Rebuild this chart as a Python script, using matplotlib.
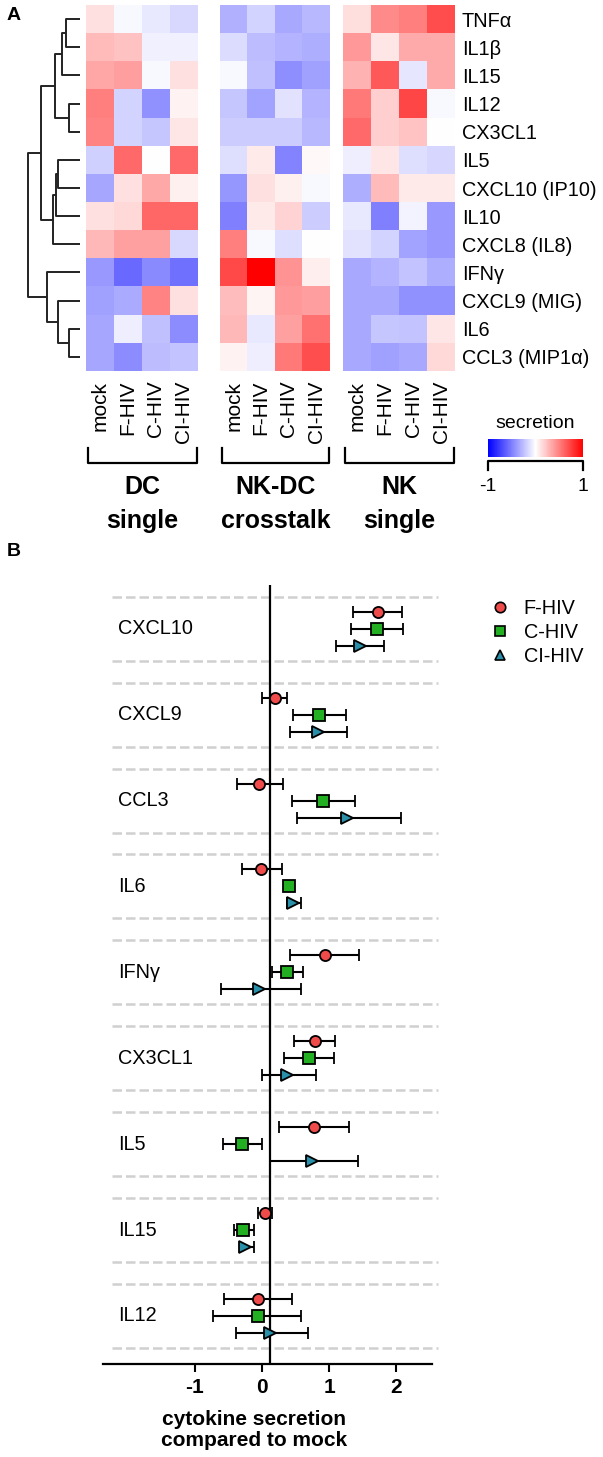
import numpy as np
import matplotlib
matplotlib.use("Agg")
import matplotlib.pyplot as plt
from matplotlib.lines import Line2D

plt.rcParams['font.family'] = ['Liberation Sans', 'DejaVu Sans']

W, H = 603, 1457

# ---------------- data: panel A ----------------
cytokines = ["TNFα", "IL1β", "IL15", "IL12", "CX3CL1", "IL5", "CXCL10 (IP10)",
             "IL10", "CXCL8 (IL8)", "IFNγ", "CXCL9 (MIG)", "IL6", "CCL3 (MIP1α)"]
conditions = ["mock", "F-HIV", "C-HIV", "CI-HIV"]
groups = [("DC", "single"), ("NK-DC", "crosstalk"), ("NK", "single")]

dc_single = [
    [0.12, -0.03, -0.09, -0.15],
    [0.27, 0.24, -0.06, -0.06],
    [0.35, 0.38, -0.03, 0.12],
    [0.50, -0.17, -0.43, 0.05],
    [0.48, -0.17, -0.22, 0.10],
    [-0.18, 0.58, 0.00, 0.58],
    [-0.35, 0.12, 0.34, 0.06],
    [0.12, 0.15, 0.60, 0.60],
    [0.28, 0.37, 0.37, -0.15],
    [-0.40, -0.58, -0.46, -0.56],
    [-0.37, -0.33, 0.48, 0.12],
    [-0.35, -0.07, -0.25, -0.45],
    [-0.35, -0.45, -0.26, -0.23],
]
nkdc_crosstalk = [
    [-0.31, -0.17, -0.34, -0.28],
    [-0.14, -0.26, -0.29, -0.32],
    [-0.03, -0.25, -0.44, -0.37],
    [-0.22, -0.36, -0.11, -0.29],
    [-0.20, -0.20, -0.20, -0.28],
    [-0.13, 0.08, -0.48, 0.03],
    [-0.41, 0.12, 0.06, -0.03],
    [-0.50, 0.08, 0.17, -0.20],
    [0.50, -0.03, -0.13, 0.00],
    [0.71, 1.00, 0.42, 0.07],
    [0.26, 0.04, 0.40, 0.38],
    [0.28, -0.09, 0.37, 0.56],
    [0.05, -0.07, 0.52, 0.69],
]
nk_single = [
    [0.13, 0.46, 0.50, 0.70],
    [0.40, 0.10, 0.33, 0.33],
    [0.30, 0.65, -0.10, 0.33],
    [0.52, 0.19, 0.72, -0.03],
    [0.58, 0.19, 0.23, 0.00],
    [-0.07, 0.10, -0.13, -0.16],
    [-0.32, 0.27, 0.08, 0.08],
    [-0.09, -0.50, -0.04, -0.40],
    [-0.11, -0.17, -0.36, -0.40],
    [-0.34, -0.29, -0.23, -0.32],
    [-0.34, -0.34, -0.43, -0.43],
    [-0.34, -0.22, -0.23, 0.10],
    [-0.34, -0.37, -0.34, 0.15],
]

# dendrogram merges (child a, child b, height); new cluster ids start at 13
linkage = [
    (0, 1, 14.3),     # 13
    (3, 4, 10.7),     # 14
    (13, 2, 18.3),    # 15
    (15, 14, 25.0),   # 16
    (5, 6, 21.7),     # 17
    (17, 7, 24.5),    # 18
    (18, 8, 27.3),    # 19
    (16, 19, 39.3),   # 20
    (11, 12, 10.7),   # 21
    (10, 21, 21.7),   # 22
    (9, 22, 33.3),    # 23
    (20, 23, 52.0),   # 24
]

# ---------------- data: panel B ----------------
b_cytokines = ["CXCL10", "CXCL9", "CCL3", "IL6", "IFNγ", "CX3CL1", "IL5", "IL15", "IL12"]
series = ["F-HIV", "C-HIV", "CI-HIV"]
f_mean = [1.72, 0.20, -0.04, -0.01, 0.94, 0.79, 0.78, 0.05, -0.05]
f_lo = [1.36, 0.01, -0.37, -0.29, 0.42, 0.48, 0.26, -0.05, -0.56]
f_hi = [2.09, 0.38, 0.31, 0.30, 1.45, 1.09, 1.30, 0.15, 0.45]
c_mean = [1.71, 0.85, 0.91, 0.41, 0.37, 0.70, -0.29, -0.28, -0.06]
c_lo = [1.33, 0.46, 0.45, 0.37, 0.15, 0.33, -0.58, -0.42, -0.72]
c_hi = [2.10, 1.25, 1.38, 0.45, 0.62, 1.07, 0.00, -0.12, 0.58]
ci_mean = [1.46, 0.83, 1.26, 0.46, -0.04, 0.38, 0.75, -0.25, 0.12]
ci_lo = [1.11, 0.42, 0.52, 0.38, -0.61, 0.01, 0.12, -0.33, -0.38]
ci_hi = [1.82, 1.26, 2.07, 0.58, 0.58, 0.81, 1.43, -0.11, 0.68]


def px_axes(x0, y0, x1, y1):
    return fig.add_axes([x0 / W, 1 - y1 / H, (x1 - x0) / W, (y1 - y0) / H])


def fx(x):
    return x / W


def fy(y):
    return 1 - y / H


fig = plt.figure(figsize=(W / 100, H / 100), dpi=100)

# ---------------- panel A heatmaps ----------------
panel_x = [(86, 198), (220, 330), (343, 455)]
top, bottom = 5, 371
im = None
for k, (mat, (x0, x1)) in enumerate(zip([dc_single, nkdc_crosstalk, nk_single], panel_x)):
    ax = px_axes(x0, top, x1, bottom)
    im = ax.imshow(np.array(mat), cmap="bwr", vmin=-1, vmax=1, aspect="auto",
                   interpolation="nearest")
    for s in ax.spines.values():
        s.set_visible(False)
    ax.set_xticks(range(len(conditions)))
    ax.set_xticklabels(conditions, rotation=90, fontsize=15)
    ax.tick_params(axis="x", length=0, pad=7)
    if k == 2:
        ax.yaxis.tick_right()
        ax.set_yticks(range(len(cytokines)))
        ax.set_yticklabels(cytokines, fontsize=14.3)
        ax.tick_params(axis="y", length=0, pad=5)
    else:
        ax.set_yticks([])
    # bracket + group label
    bx0, bx1 = x0 + 2, x1 - 1
    fig.add_artist(Line2D([fx(bx0), fx(bx0), fx(bx1), fx(bx1)],
                          [fy(448), fy(463), fy(463), fy(448)],
                          color="black", lw=1.6, transform=fig.transFigure))
    cx = (bx0 + bx1) / 2
    fig.text(fx(cx), fy(487), groups[k][0], ha="center", va="center",
             fontsize=18, fontweight="bold")
    fig.text(fx(cx), fy(521), groups[k][1], ha="center", va="center",
             fontsize=18, fontweight="bold")

# dendrogram
dax = px_axes(24, top, 80, bottom)
pos = {i: (0.0, float(i)) for i in range(len(cytokines))}
for n, (a, b, h) in enumerate(linkage):
    xa, ya = pos[a]
    xb, yb = pos[b]
    dax.plot([xa, h, h, xb], [ya, ya, yb, yb], color="#222222", lw=1.4,
             solid_capstyle="butt", clip_on=False)
    pos[len(cytokines) + n] = (h, (ya + yb) / 2)
dax.set_xlim(56, 0)
dax.set_ylim(len(cytokines) - 0.5, -0.5)
dax.axis("off")

# colorbar
cax = px_axes(488, 439, 583, 457)
cb = fig.colorbar(im, cax=cax, orientation="horizontal")
cb.outline.set_visible(False)
cb.set_ticks([-1, 1])
cb.set_ticklabels(["-1", "1"])
cax.tick_params(length=0, pad=15, labelsize=14)
cax.set_title("secretion", fontsize=14, pad=8)
fig.add_artist(Line2D([fx(488), fx(488), fx(583), fx(583)],
                      [fy(470), fy(461), fy(461), fy(470)],
                      color="black", lw=1.6, transform=fig.transFigure))

fig.text(fx(14), fy(15), "A", ha="center", va="center", fontsize=14, fontweight="bold")
fig.text(fx(14), fy(552), "B", ha="center", va="center", fontsize=14, fontweight="bold")

# ---------------- panel B ----------------
bx = px_axes(103, 585, 432, 1364)
n = len(b_cytokines)
yc = np.arange(n)
off = 17 / 85.9
dash = 32 / 85.9

bx.hlines(np.concatenate([yc - dash, yc + dash]), -2.22, 2.62, colors="#d0d0d0",
          lw=1.8, linestyles=(0, (3.8, 1.6)), clip_on=False, zorder=1)
bx.axvline(0.12, color="black", lw=1.6, zorder=2)

specs = [
    (f_mean, f_lo, f_hi, -off, "o", "#ef4b4b", 8),
    (c_mean, c_lo, c_hi, 0.0, "s", "#22b022", 8),
    (ci_mean, ci_lo, ci_hi, off, ">", "#2a90aa", 9),
]
for (m, lo, hi, dy, mk, col, ms) in specs:
    m = np.array(m)
    err = [m - np.array(lo), np.array(hi) - m]
    bx.errorbar(m, yc + dy, xerr=err, fmt=mk, ms=ms, mfc=col, mec="black", mew=1.3,
                ecolor="black", elinewidth=1.5, capsize=4.6, capthick=1.5, zorder=3)

for i, name in enumerate(b_cytokines):
    bx.text(-2.135, i, name, ha="left", va="center", fontsize=14.3)

bx.set_xlim(-2.36, 2.53)
bx.set_ylim(8.56, -0.51)
bx.set_yticks([])
bx.set_xticks([-1, 0, 1, 2])
bx.set_xticklabels(["-1", "0", "1", "2"], fontsize=15, fontweight="bold")
bx.tick_params(axis="x", length=6, width=1.5, pad=4)
for s in ["top", "right", "left"]:
    bx.spines[s].set_visible(False)
bx.spines["bottom"].set_linewidth(1.6)

fig.text(fx(254), fy(1430), "cytokine secretion\ncompared to mock", ha="center",
         va="center", fontsize=15, fontweight="bold", linespacing=1.15)

handles = [
    Line2D([], [], ls="none", marker="o", ms=7.5, mfc="#ef4b4b", mec="black", mew=1.2),
    Line2D([], [], ls="none", marker="s", ms=7.5, mfc="#22b022", mec="black", mew=1.2),
    Line2D([], [], ls="none", marker="^", ms=7.5, mfc="#2a90aa", mec="black", mew=1.2),
]
bx.legend(handles, series, loc="upper left", bbox_to_anchor=(fx(490), fy(599)),
          bbox_transform=fig.transFigure, frameon=False, fontsize=14.3,
          handlelength=1.0, handletextpad=0.7, labelspacing=0.25,
          borderpad=0, borderaxespad=0)

fig.savefig("out.png", dpi=100)
